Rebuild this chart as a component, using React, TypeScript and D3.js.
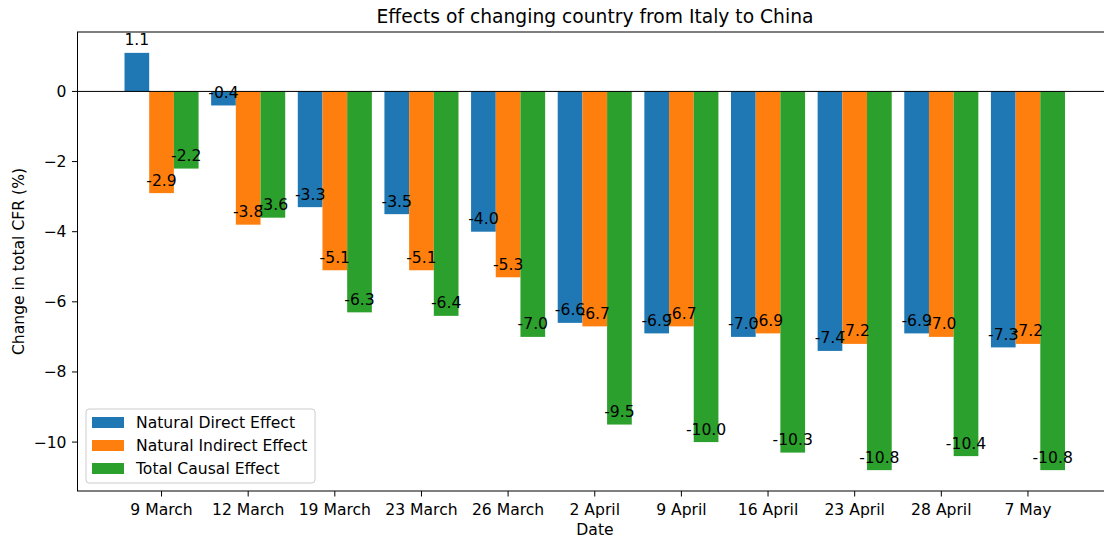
import React, { Component } from "react";
import * as d3 from "d3";

const dates = [
  "9 March", "12 March", "19 March", "23 March", "26 March",
  "2 April", "9 April", "16 April", "23 April", "28 April", "7 May",
];
const directEffect = [1.1, -0.4, -3.3, -3.5, -4.0, -6.6, -6.9, -7.0, -7.4, -6.9, -7.3];
const indirectEffect = [-2.9, -3.8, -5.1, -5.1, -5.3, -6.7, -6.7, -6.9, -7.2, -7.0, -7.2];
const totalEffect = [-2.2, -3.6, -6.3, -6.4, -7.0, -9.5, -10.0, -10.3, -10.8, -10.4, -10.8];
const seriesNames = ["Natural Direct Effect", "Natural Indirect Effect", "Total Causal Effect"];
const yTicks = [0, -2, -4, -6, -8, -10];

const colors = ["#1f77b4", "#ff7f0e", "#2ca02c"];
const font = "'DejaVu Sans', sans-serif";
const fs = 15.6;

export default class App extends Component {
  chartRef: any;

  componentDidMount(): void {
    const W = 1104;
    const H = 541;
    const plot = { left: 77.5, top: 32, right: 1112, bottom: 491 };
    const barW = 0.285;

    const svg = d3
      .select(this.chartRef)
      .attr("width", W)
      .attr("height", H)
      .style("font-family", font);

    const x = d3.scaleLinear().domain([-0.97, 10.97]).range([plot.left, plot.right]);
    const y = d3.scaleLinear().domain([1.695, -11.395]).range([plot.top, plot.bottom]);

    const series = [directEffect, indirectEffect, totalEffect];

    const main = svg.append("g");

    series.forEach((vals, s) => {
      const off = (s - 1) * barW;
      main
        .selectAll(`.bar-${s}`)
        .data(vals)
        .enter()
        .append("rect")
        .attr("x", (d, i) => x(i + off - barW / 2))
        .attr("width", x(barW) - x(0))
        .attr("y", (d) => y(Math.max(0, d)))
        .attr("height", (d) => Math.abs(y(d) - y(0)))
        .attr("fill", colors[s]);
    });

    // zero line
    main
      .append("line")
      .attr("x1", plot.left)
      .attr("x2", plot.right)
      .attr("y1", y(0))
      .attr("y2", y(0))
      .attr("stroke", "#000")
      .attr("stroke-width", 1);

    // value labels
    series.forEach((vals, s) => {
      const off = (s - 1) * barW;
      main
        .selectAll(`.lbl-${s}`)
        .data(vals)
        .enter()
        .append("text")
        .attr("x", (d, i) => x(i + off))
        .attr("y", (d) => y(d) - 7.5)
        .attr("text-anchor", "middle")
        .attr("font-size", fs)
        .attr("fill", "#000")
        .text((d) => d.toFixed(1));
    });

    // frame
    svg
      .append("rect")
      .attr("x", plot.left)
      .attr("y", plot.top)
      .attr("width", plot.right - plot.left)
      .attr("height", plot.bottom - plot.top)
      .attr("fill", "none")
      .attr("stroke", "#000")
      .attr("stroke-width", 1);

    // y axis
    const yAxis = svg.append("g");
    yTicks.forEach((t) => {
      yAxis
        .append("line")
        .attr("x1", plot.left - 5.5)
        .attr("x2", plot.left)
        .attr("y1", y(t))
        .attr("y2", y(t))
        .attr("stroke", "#000");
      yAxis
        .append("text")
        .attr("x", plot.left - 11)
        .attr("y", y(t))
        .attr("dy", "0.35em")
        .attr("text-anchor", "end")
        .attr("font-size", fs)
        .text(t < 0 ? "\u2212" + Math.abs(t) : String(t));
    });

    // x axis
    const xAxis = svg.append("g");
    dates.forEach((dname, i) => {
      xAxis
        .append("line")
        .attr("x1", x(i))
        .attr("x2", x(i))
        .attr("y1", plot.bottom)
        .attr("y2", plot.bottom + 5.5)
        .attr("stroke", "#000");
      xAxis
        .append("text")
        .attr("x", x(i))
        .attr("y", plot.bottom + 23.5)
        .attr("text-anchor", "middle")
        .attr("font-size", fs)
        .text(dname);
    });

    svg
      .append("text")
      .attr("x", 595)
      .attr("y", 535)
      .attr("text-anchor", "middle")
      .attr("font-size", fs)
      .text("Date");

    svg
      .append("text")
      .attr("transform", `translate(24, ${(plot.top + plot.bottom) / 2}) rotate(-90)`)
      .attr("text-anchor", "middle")
      .attr("font-size", fs)
      .text("Change in total CFR (%)");

    svg
      .append("text")
      .attr("x", 595)
      .attr("y", 23)
      .attr("text-anchor", "middle")
      .attr("font-size", 18.7)
      .text("Effects of changing country from Italy to China");

    // legend
    const lg = svg.append("g").attr("transform", "translate(86, 409)");
    lg.append("rect")
      .attr("width", 229)
      .attr("height", 74)
      .attr("rx", 3)
      .attr("fill", "#fff")
      .attr("fill-opacity", 0.8)
      .attr("stroke", "#ccc");
    seriesNames.forEach((name, i) => {
      const row = lg.append("g").attr("transform", `translate(0, ${13.5 + i * 23})`);
      row.append("rect")
        .attr("x", 6)
        .attr("y", -5.5)
        .attr("width", 32)
        .attr("height", 11)
        .attr("fill", colors[i]);
      row.append("text")
        .attr("x", 50)
        .attr("y", 0)
        .attr("dy", "0.35em")
        .attr("font-size", fs)
        .text(name);
    });
  }

  render() {
    return (
      <div style={{ position: "absolute", left: 0, top: 0 }}>
        <svg ref={(r) => (this.chartRef = r)}></svg>
      </div>
    );
  }
}
